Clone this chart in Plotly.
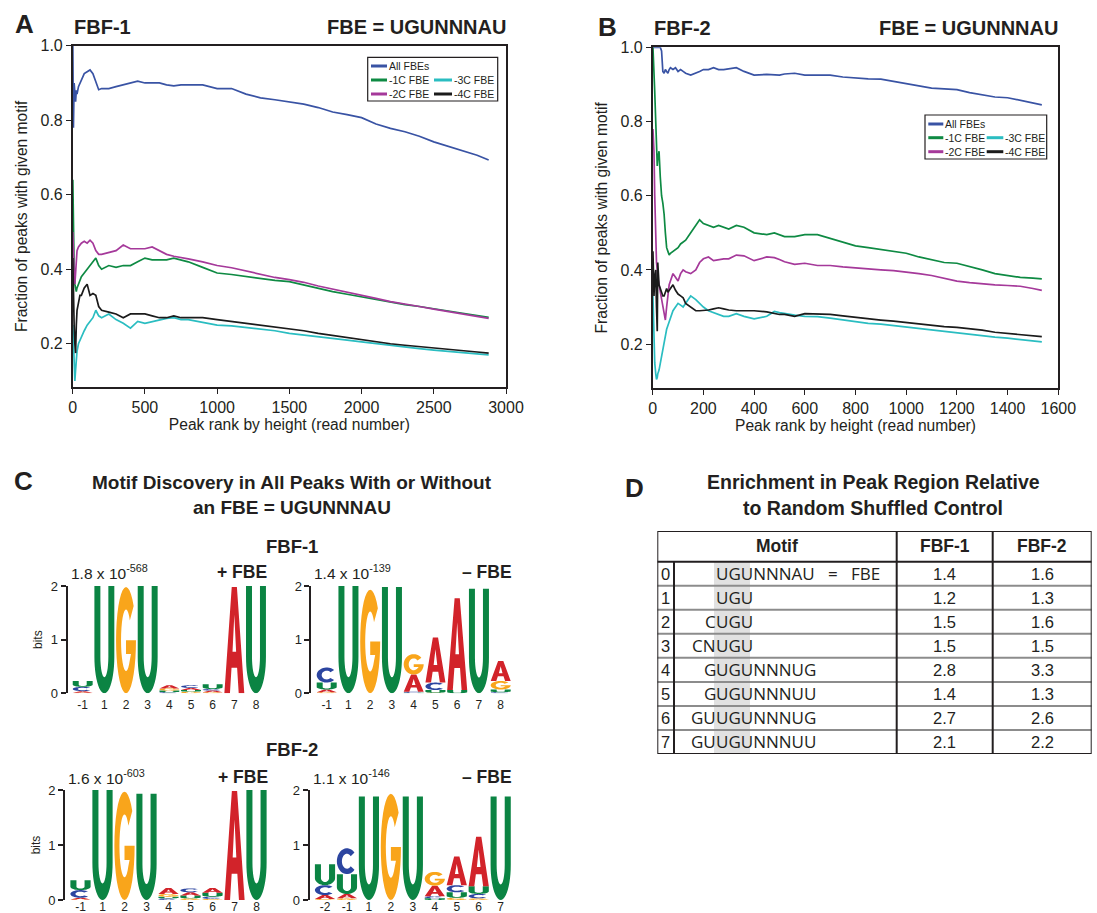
import math
import plotly.graph_objects as go

# ---------------- DATA ----------------
SERIES_NAMES = ["All FBEs", "-1C FBE", "-2C FBE", "-3C FBE", "-4C FBE"]
SERIES_COLORS = ["#3953A4", "#0E8A43", "#A5399A", "#2ABDC1", "#1b1b1b"]

A_RANK = [1, 5, 10, 15, 20, 25, 30, 40, 50, 60, 80, 100, 120, 140, 160, 180, 200, 250, 300, 350,
          400, 450, 500, 550, 600, 650, 700, 750, 800, 900, 1000, 1100, 1200, 1300, 1400, 1500,
          1600, 1700, 1800, 1900, 2000, 2100, 2200, 2300, 2400, 2500, 2600, 2700, 2800, 2880]
A_ALL = [1.0, 0.78, 0.90, 0.86, 0.85, 0.88, 0.87, 0.89, 0.90, 0.91, 0.925, 0.93, 0.935, 0.925, 0.905,
         0.882, 0.885, 0.885, 0.89, 0.895, 0.90, 0.905, 0.90, 0.90, 0.90, 0.895, 0.892, 0.895, 0.895,
         0.895, 0.885, 0.885, 0.87, 0.86, 0.855, 0.85, 0.843, 0.834, 0.822, 0.815, 0.807, 0.79, 0.778,
         0.769, 0.757, 0.742, 0.73, 0.72, 0.706, 0.693]
A_1C = [0.64, 0.48, 0.40, 0.36, 0.35, 0.34, 0.35, 0.36, 0.37, 0.38, 0.39, 0.40, 0.41, 0.42, 0.43,
        0.41, 0.40, 0.41, 0.405, 0.41, 0.41, 0.42, 0.43, 0.425, 0.425, 0.425, 0.43, 0.425, 0.42,
        0.405, 0.39, 0.386, 0.38, 0.375, 0.37, 0.367, 0.358, 0.348, 0.34, 0.333, 0.326, 0.318, 0.311,
        0.305, 0.30, 0.295, 0.288, 0.282, 0.276, 0.271]
A_2C = [0.50, 0.42, 0.38, 0.36, 0.40, 0.43, 0.45, 0.46, 0.465, 0.47, 0.475, 0.47, 0.478, 0.47, 0.45,
        0.44, 0.44, 0.445, 0.45, 0.465, 0.455, 0.455, 0.455, 0.46, 0.45, 0.44, 0.435, 0.432, 0.428,
        0.42, 0.41, 0.404, 0.395, 0.385, 0.378, 0.372, 0.365, 0.355, 0.347, 0.34, 0.332, 0.322, 0.313,
        0.307, 0.30, 0.293, 0.286, 0.28, 0.274, 0.268]
A_3C = [0.25, 0.20, 0.13, 0.10, 0.13, 0.16, 0.18, 0.20, 0.21, 0.22, 0.235, 0.25, 0.26, 0.27, 0.29,
        0.275, 0.27, 0.28, 0.265, 0.255, 0.242, 0.26, 0.255, 0.26, 0.265, 0.268, 0.27, 0.265, 0.265,
        0.258, 0.25, 0.248, 0.244, 0.24, 0.235, 0.228, 0.224, 0.22, 0.214, 0.21, 0.205, 0.20, 0.195,
        0.19, 0.187, 0.183, 0.18, 0.177, 0.173, 0.17]
A_4C = [0.43, 0.30, 0.25, 0.20, 0.175, 0.25, 0.29, 0.31, 0.33, 0.33, 0.35, 0.36, 0.33, 0.335, 0.33,
        0.30, 0.29, 0.285, 0.28, 0.27, 0.28, 0.28, 0.28, 0.275, 0.27, 0.27, 0.275, 0.27, 0.27,
        0.27, 0.265, 0.26, 0.255, 0.25, 0.245, 0.24, 0.235, 0.228, 0.222, 0.218, 0.212, 0.205, 0.20,
        0.196, 0.192, 0.188, 0.185, 0.182, 0.178, 0.175]

B_RANK = [1, 5, 8, 12, 15, 18, 20, 25, 30, 35, 40, 45, 50, 55, 60, 65, 70, 80, 90, 100, 110, 120, 130,
          150, 170, 185, 200, 220, 240, 260, 280, 300, 330, 360, 400, 450, 480, 500, 520, 560, 600,
          650, 700, 750, 800, 850, 900, 950, 1000, 1050, 1100, 1150, 1200, 1250, 1300, 1350, 1400,
          1450, 1500, 1535]
B_ALL = [1.0, 1.0, 1.0, 1.0, 1.0, 1.0, 1.0, 1.0, 1.0, 0.99, 0.935, 0.93, 0.94, 0.935, 0.93, 0.94,
         0.945, 0.94, 0.945, 0.935, 0.94, 0.935, 0.93, 0.925, 0.93, 0.935, 0.94, 0.94, 0.945, 0.94,
         0.94, 0.942, 0.945, 0.935, 0.925, 0.927, 0.925, 0.925, 0.928, 0.93, 0.925, 0.926, 0.925,
         0.92, 0.917, 0.915, 0.914, 0.908, 0.90, 0.895, 0.89, 0.888, 0.886, 0.878, 0.872, 0.866,
         0.864, 0.857, 0.85, 0.845]
B_1C = [1.0, 0.95, 0.88, 0.80, 0.72, 0.68, 0.70, 0.72, 0.65, 0.60, 0.58, 0.55, 0.50, 0.46, 0.45, 0.44,
        0.445, 0.45, 0.455, 0.46, 0.47, 0.475, 0.48, 0.50, 0.52, 0.535, 0.525, 0.52, 0.515, 0.52,
        0.515, 0.51, 0.52, 0.515, 0.50, 0.495, 0.50, 0.495, 0.49, 0.49, 0.495, 0.495, 0.485, 0.475,
        0.465, 0.46, 0.455, 0.452, 0.445, 0.435, 0.428, 0.42, 0.418, 0.41, 0.40, 0.39, 0.384, 0.38,
        0.378, 0.376]
B_2C = [0.78, 0.72, 0.60, 0.47, 0.42, 0.40, 0.38, 0.36, 0.34, 0.32, 0.30, 0.28, 0.265, 0.30, 0.34,
        0.36, 0.37, 0.39, 0.38, 0.37, 0.39, 0.40, 0.395, 0.39, 0.40, 0.42, 0.43, 0.435, 0.425, 0.428,
        0.43, 0.43, 0.44, 0.438, 0.425, 0.435, 0.433, 0.428, 0.422, 0.415, 0.418, 0.412, 0.412, 0.408,
        0.405, 0.402, 0.40, 0.398, 0.395, 0.39, 0.385, 0.378, 0.37, 0.366, 0.362, 0.36, 0.358, 0.356,
        0.35, 0.345]
B_3C = [0.33, 0.22, 0.15, 0.12, 0.105, 0.11, 0.12, 0.13, 0.15, 0.17, 0.19, 0.20, 0.22, 0.24, 0.25,
        0.26, 0.27, 0.29, 0.30, 0.31, 0.305, 0.30, 0.31, 0.33, 0.32, 0.31, 0.30, 0.29, 0.285, 0.28,
        0.275, 0.275, 0.282, 0.275, 0.268, 0.275, 0.288, 0.285, 0.282, 0.278, 0.275, 0.274, 0.27,
        0.265, 0.26, 0.256, 0.254, 0.25, 0.245, 0.241, 0.237, 0.233, 0.229, 0.225, 0.222, 0.219,
        0.216, 0.213, 0.21, 0.206]
B_4C = [0.45, 0.33, 0.38, 0.40, 0.30, 0.235, 0.42, 0.36, 0.35, 0.34, 0.33, 0.33, 0.34, 0.35, 0.34,
        0.345, 0.35, 0.36, 0.345, 0.335, 0.33, 0.325, 0.31, 0.30, 0.29, 0.29, 0.29, 0.292, 0.295,
        0.298, 0.295, 0.292, 0.29, 0.29, 0.29, 0.287, 0.283, 0.28, 0.28, 0.275, 0.282, 0.282, 0.28,
        0.276, 0.272, 0.268, 0.265, 0.262, 0.258, 0.254, 0.25, 0.247, 0.245, 0.242, 0.238, 0.232,
        0.229, 0.226, 0.223, 0.22]

A_XTICKS = [0, 500, 1000, 1500, 2000, 2500, 3000]
B_XTICKS = [0, 200, 400, 600, 800, 1000, 1200, 1400, 1600]
Y_TICKS = [0.2, 0.4, 0.6, 0.8, 1.0]

# Sequence logos (bits per letter)
LOGO1_POS = ["-1", "1", "2", "3", "4", "5", "6", "7", "8"]
LOGO1_A = [0.03, 0, 0, 0, 0.06, 0.04, 0.03, 1.98, 0]
LOGO1_C = [0.08, 0, 0, 0, 0.02, 0.05, 0.03, 0, 0]
LOGO1_G = [0.01, 0, 1.98, 0, 0.04, 0.03, 0.02, 0, 0]
LOGO1_U = [0.11, 2.0, 0, 2.0, 0.03, 0.03, 0.09, 0, 2.0]

LOGO2_POS = ["-1", "1", "2", "3", "4", "5", "6", "7", "8"]
LOGO2_A = [0.05, 0, 0, 0, 0.32, 0.84, 1.71, 0, 0.37]
LOGO2_C = [0.28, 0, 0, 0, 0.02, 0.14, 0, 0, 0.02]
LOGO2_G = [0.02, 0, 1.93, 0, 0.38, 0.01, 0, 0, 0.16]
LOGO2_U = [0.13, 2.0, 0, 1.98, 0.01, 0.05, 0.06, 1.95, 0.05]

LOGO3_POS = ["-1", "1", "2", "3", "4", "5", "6", "7", "8"]
LOGO3_A = [0.03, 0, 0, 0, 0.11, 0.06, 0.09, 1.98, 0]
LOGO3_C = [0.14, 0, 0, 0, 0.03, 0.07, 0.04, 0, 0]
LOGO3_G = [0.01, 0, 1.97, 0, 0.05, 0.03, 0.02, 0, 0]
LOGO3_U = [0.18, 2.0, 0, 1.93, 0.03, 0.05, 0.07, 0, 2.0]

LOGO4_POS = ["-2", "-1", "1", "2", "3", "4", "5", "6", "7"]
LOGO4_A = [0.07, 0.08, 0, 0, 0, 0.19, 0.52, 0.90, 0]
LOGO4_C = [0.18, 0.47, 0, 0, 0, 0.04, 0.13, 0.08, 0]
LOGO4_G = [0.02, 0.03, 0, 1.93, 0, 0.25, 0.04, 0.03, 0]
LOGO4_U = [0.38, 0.36, 1.88, 0, 1.88, 0.03, 0.10, 0.14, 1.88]

LOGO_PVALUES = ["1.8 x 10<sup>-568</sup>", "1.4 x 10<sup>-139</sup>",
                "1.6 x 10<sup>-603</sup>", "1.1 x 10<sup>-146</sup>"]
LOGO_TAGS = ["+ FBE", "\u2013 FBE", "+ FBE", "\u2013 FBE"]

# Enrichment table
ROW_IDX = ["0", "1", "2", "3", "4", "5", "6", "7"]
MOTIF_PREFIX = ["", "", "C", "CN", "G", "G", "GU", "GU"]
MOTIF_CORE = ["UGUNNNAU\u00a0\u00a0\u00a0=\u00a0\u00a0\u00a0FBE", "UGU", "UGU", "UGU",
              "UGUNNNUG", "UGUNNNUU", "UGUNNNUG", "UGUNNNUU"]
ENRICH_FBF1 = ["1.4", "1.2", "1.5", "1.5", "2.8", "1.4", "2.7", "2.1"]
ENRICH_FBF2 = ["1.6", "1.3", "1.6", "1.5", "3.3", "1.3", "2.6", "2.2"]
TABLE_HEADER = ["Motif", "FBF-1", "FBF-2"]

# ---------------- STYLE ----------------
W, H = 1097, 913
NARROW = "Liberation Sans, Arial, Helvetica, sans-serif"
SANS = "Liberation Sans, Arial, Helvetica, sans-serif"
MOTIF_FONT = "Open Sans, Noto Sans, DejaVu Sans, sans-serif"
INK = "#231f20"
LETTER_COLORS = {"A": "#D2232A", "C": "#2C45A0", "G": "#F9A51B", "U": "#0B8443"}


def px(x):
    return x / W


def py(y):
    return 1 - y / H


fig = go.Figure()
annotations = []
shapes = []

# ---------------- Panels A and B ----------------
panelA = [A_ALL, A_1C, A_2C, A_3C, A_4C]
panelB = [B_ALL, B_1C, B_2C, B_3C, B_4C]
for xs, ser, xa, ya in [(A_RANK, panelA, "x", "y"), (B_RANK, panelB, "x2", "y2")]:
    for i in range(5):
        fig.add_trace(go.Scatter(x=xs, y=ser[i], mode="lines", name=SERIES_NAMES[i],
                                 line=dict(color=SERIES_COLORS[i], width=1.7),
                                 xaxis=xa, yaxis=ya, showlegend=False, hoverinfo="skip"))

line_axis = dict(showline=True, mirror=True, linecolor=INK, linewidth=1.5, ticks="outside",
                 ticklen=5, tickcolor=INK, tickwidth=1.2, showgrid=False, zeroline=False,
                 automargin=False, tickfont=dict(family=NARROW, size=16, color=INK))
title_font = dict(family=NARROW, size=15.6, color=INK)

layout_axes = dict(
    xaxis=dict(domain=[px(72.7), px(506)], range=[0, 3000], tickvals=A_XTICKS, anchor="y",
               title=dict(text="Peak rank by height (read number)", font=title_font, standoff=1),
               **line_axis),
    yaxis=dict(domain=[py(387), py(45.7)], range=[0.084, 1.0], tickvals=Y_TICKS,
               ticktext=[f"{v:.1f}" for v in Y_TICKS], anchor="x",
               title=dict(text="Fraction of peaks with given motif", font=title_font, standoff=9),
               **line_axis),
    xaxis2=dict(domain=[px(652.7), px(1058.3)], range=[0, 1600], tickvals=B_XTICKS, anchor="y2",
                title=dict(text="Peak rank by height (read number)", font=title_font, standoff=1),
                **line_axis),
    yaxis2=dict(domain=[py(388.3), py(47.3)], range=[0.081, 1.0], tickvals=Y_TICKS,
                ticktext=[f"{v:.1f}" for v in Y_TICKS], anchor="x2",
                title=dict(text="Fraction of peaks with given motif", font=title_font, standoff=9),
                **line_axis),
)


def legend_box(box, rows):
    x0, y0, x1, y1 = box
    shapes.append(dict(type="rect", xref="paper", yref="paper", x0=px(x0), x1=px(x1),
                       y0=py(y1), y1=py(y0), line=dict(color=INK, width=1.2), fillcolor="white"))
    for idx, lx0, lx1, ty in rows:
        shapes.append(dict(type="line", xref="paper", yref="paper", x0=px(lx0), x1=px(lx1),
                           y0=py(ty), y1=py(ty), line=dict(color=SERIES_COLORS[idx], width=3)))
        annotations.append(dict(xref="paper", yref="paper", x=px(lx1 + 0.5), y=py(ty),
                                xanchor="left", yanchor="middle", showarrow=False,
                                text=SERIES_NAMES[idx], borderpad=0,
                                font=dict(family=NARROW, size=10.5, color=INK)))


legend_box((367.7, 57.3, 497.7, 101),
           [(0, 371, 387, 66), (1, 371, 387, 80), (3, 434, 452, 80), (2, 371, 387, 94), (4, 434, 452, 94)])
legend_box((925, 115, 1046.7, 159),
           [(0, 928.3, 943.3, 124), (1, 928.3, 943.3, 137.7), (3, 986.7, 1003.3, 137.7),
            (2, 928.3, 943.3, 151.7), (4, 986.7, 1003.3, 151.7)])


def text(x, y, s, size, bold=False, xanchor="center", family=NARROW, yanchor="middle"):
    annotations.append(dict(xref="paper", yref="paper", x=px(x), y=py(y), text=f"<b>{s}</b>" if bold else s,
                            showarrow=False, xanchor=xanchor, yanchor=yanchor, borderpad=0,
                            font=dict(family=family, size=size, color=INK)))


text(14, 24, "A", 26, True, "left", SANS)
text(597, 27, "B", 26, True, "left", SANS)
text(13, 481, "C", 26, True, "left", SANS)
text(624, 488, "D", 26, True, "left", SANS)
text(73, 27, "FBF-1", 20, True, "left")
text(507, 27, "FBE = UGUNNNAU", 20, True, "right")
text(653, 28, "FBF-2", 20, True, "left")
text(1059, 28, "FBE = UGUNNNAU", 20, True, "right")

text(292, 482, "Motif Discovery in All Peaks With or Without", 19, True)
text(292, 508, "an FBE = UGUNNNAU", 19, True)
text(292, 546, "FBF-1", 18.5, True)
text(292, 749, "FBF-2", 18.5, True)
text(873, 482, "Enrichment in Peak Region Relative", 19.5, True)
text(873, 508, "to Random Shuffled Control", 19.5, True)

# ---------------- Sequence logos ----------------


def arc(cx, cy, rx, ry, a0, a1, n):
    pts = []
    for k in range(n + 1):
        t = math.radians(a0 + (a1 - a0) * k / n)
        pts.append((cx + rx * math.cos(t), cy + ry * math.sin(t)))
    return pts


GLYPHS = {
    "U": [[(0, 1)] + arc(0.5, 0.34, 0.5, 0.34, 180, 360, 24) + [(1, 1), (0.7, 1)]
          + arc(0.5, 0.34, 0.2, 0.19, 360, 180, 16) + [(0.3, 1)]],
    "C": [arc(0.5, 0.5, 0.5, 0.5, 42, 318, 32) + arc(0.5, 0.5, 0.25, 0.29, 318, 42, 24)],
    "G": [arc(0.5, 0.5, 0.5, 0.5, 40, 360, 32) + [(0.5, 0.5), (0.5, 0.37), (0.75, 0.37)]
          + arc(0.5, 0.5, 0.25, 0.29, -40, -320, 24)],
    "A": [[(0, 0), (0.37, 1), (0.63, 1), (1, 0), (0.72, 0), (0.64, 0.24), (0.36, 0.24), (0.28, 0)],
          [(0.41, 0.39), (0.59, 0.39), (0.5, 0.74)]],
}


def letter_path(letter, xc, y0, h, w=0.92):
    parts = []
    for poly in GLYPHS[letter]:
        pts = [(xc - w / 2 + u * w, y0 + v * h) for u, v in poly]
        parts.append("M " + " L ".join(f"{x:.4f},{y:.5f}" for x, y in pts) + " Z")
    return " ".join(parts)


logos = [
    # (axis id, first col center px, col spacing px, y0 px, y2 px, label row px, positions, A, C, G, U)
    (3, 82.7, 21.66, 693.3, 586, 696, LOGO1_POS, LOGO1_A, LOGO1_C, LOGO1_G, LOGO1_U),
    (4, 326.7, 21.75, 693.3, 586, 696, LOGO2_POS, LOGO2_A, LOGO2_C, LOGO2_G, LOGO2_U),
    (5, 80.5, 22.0, 900, 790, 897.5, LOGO3_POS, LOGO3_A, LOGO3_C, LOGO3_G, LOGO3_U),
    (6, 325.0, 21.96, 900, 790, 897.5, LOGO4_POS, LOGO4_A, LOGO4_C, LOGO4_G, LOGO4_U),
]
for k, (aid, c0, sp, y0p, y2p, lab_y, pos, la, lc, lg, lu) in enumerate(logos):
    xr = [-0.7, 8.55]
    layout_axes[f"xaxis{aid}"] = dict(
        domain=[px(c0 + xr[0] * sp), px(c0 + xr[1] * sp)], range=xr, anchor="free",
        position=py(lab_y), overlaying=None,
        tickvals=list(range(len(pos))), ticktext=pos, showline=False, ticks="", showgrid=False,
        zeroline=False, automargin=False, tickfont=dict(family=NARROW, size=12, color=INK))
    yax = dict(
        domain=[py(y0p), py(y2p)], range=[0, 2], anchor=f"x{aid}", tickvals=[0, 1, 2],
        showline=True, linecolor=INK, linewidth=2, ticks="outside", ticklen=5, tickwidth=2,
        tickcolor=INK, showgrid=False, zeroline=False, automargin=False,
        tickfont=dict(family=NARROW, size=13, color=INK))
    if aid in (3, 5):
        yax["title"] = dict(text="bits", font=dict(family=NARROW, size=12, color=INK), standoff=5)
    layout_axes[f"yaxis{aid}"] = yax
    # invisible anchor trace so the subplot exists
    fig.add_trace(go.Scatter(x=[0], y=[0], xaxis=f"x{aid}", yaxis=f"y{aid}", mode="markers",
                             marker=dict(opacity=0), showlegend=False, hoverinfo="skip"))
    for j in range(len(pos)):
        stack = sorted([("A", la[j]), ("C", lc[j]), ("G", lg[j]), ("U", lu[j])], key=lambda t: t[1])
        base = 0.0
        for letter, hgt in stack:
            if hgt <= 0:
                continue
            shapes.append(dict(type="path", xref=f"x{aid}", yref=f"y{aid}",
                               path=letter_path(letter, j, base, hgt),
                               fillcolor=LETTER_COLORS[letter], line=dict(width=0),
                               fillrule="evenodd", layer="above"))
            base += hgt
    left_px = c0 + xr[0] * sp
    right_px = c0 + xr[1] * sp
    ptxt_y = y2p - 14 if k < 2 else y2p - 13
    text(left_px + 2, ptxt_y, LOGO_PVALUES[k], 15.5, False, "left")
    text(right_px, ptxt_y, LOGO_TAGS[k], 17.5, True, "right")

# ---------------- Table D ----------------
T_LEFT, T_RIGHT, T_TOP, T_BOT = 657.3, 1091.7, 531, 754
T_W = T_RIGHT - T_LEFT
HDR_ROWS = (561.7 - T_TOP) / ((T_BOT - 561.7) / 8)
layout_axes["xaxis7"] = dict(domain=[px(T_LEFT), px(T_RIGHT)], range=[0, T_W], visible=False,
                             anchor="y7", fixedrange=True, automargin=False)
layout_axes["yaxis7"] = dict(domain=[py(T_BOT), py(T_TOP)], range=[8, -HDR_ROWS], visible=False,
                             anchor="x7", fixedrange=True, automargin=False)
fig.add_trace(go.Scatter(x=[0], y=[0], xaxis="x7", yaxis="y7", mode="markers",
                         marker=dict(opacity=0), showlegend=False, hoverinfo="skip"))
COL_IDX_R = 674 - T_LEFT
COL_MOTIF_R = 896.7 - T_LEFT
COL_F1_R = 992.7 - T_LEFT
CORE_X = 714.5 - T_LEFT
n_rows = len(ROW_IDX)
shapes.append(dict(type="rect", xref="x7", yref="y7", x0=714 - T_LEFT, x1=750 - T_LEFT, y0=0, y1=n_rows,
                   fillcolor="#e1e1e1", line=dict(width=0), layer="below"))
for i in range(1, n_rows):
    shapes.append(dict(type="line", xref="x7", yref="y7", x0=0, x1=T_W, y0=i, y1=i,
                       line=dict(color="#8c8c8c", width=2)))
shapes.append(dict(type="line", xref="x7", yref="y7", x0=0, x1=T_W, y0=0, y1=0,
                   line=dict(color=INK, width=2)))
shapes.append(dict(type="line", xref="x7", yref="y7", x0=COL_IDX_R, x1=COL_IDX_R, y0=0, y1=n_rows,
                   line=dict(color=INK, width=2)))
for cx in (COL_MOTIF_R, COL_F1_R):
    shapes.append(dict(type="line", xref="x7", yref="y7", x0=cx, x1=cx, y0=-HDR_ROWS, y1=n_rows,
                       line=dict(color=INK, width=2)))
shapes.append(dict(type="rect", xref="x7", yref="y7", x0=0, x1=T_W, y0=-HDR_ROWS, y1=n_rows,
                   line=dict(color=INK, width=2)))


def ttext(x, y, s, size, family, xanchor="center", bold=False, xshift=0):
    annotations.append(dict(xref="x7", yref="y7", x=x, y=y, text=f"<b>{s}</b>" if bold else s,
                            showarrow=False, xanchor=xanchor, yanchor="middle", borderpad=0,
                            xshift=xshift, font=dict(family=family, size=size, color=INK)))


hdr_y = -HDR_ROWS / 2
ttext((COL_IDX_R + COL_MOTIF_R) / 2 - 8, hdr_y, TABLE_HEADER[0], 17.5, NARROW, bold=True)
ttext((COL_MOTIF_R + COL_F1_R) / 2, hdr_y, TABLE_HEADER[1], 17.5, NARROW, bold=True)
ttext((COL_F1_R + T_W) / 2, hdr_y, TABLE_HEADER[2], 17.5, NARROW, bold=True)
for i in range(n_rows):
    yc = i + 0.5
    ttext(COL_IDX_R / 2, yc, ROW_IDX[i], 16.5, NARROW)
    if MOTIF_PREFIX[i]:
        ttext(CORE_X, yc, MOTIF_PREFIX[i], 17, MOTIF_FONT, "right", xshift=2.5)
    ttext(CORE_X, yc, MOTIF_CORE[i], 17, MOTIF_FONT, "left")
    ttext((COL_MOTIF_R + COL_F1_R) / 2, yc, ENRICH_FBF1[i], 16.5, NARROW)
    ttext((COL_F1_R + T_W) / 2, yc, ENRICH_FBF2[i], 16.5, NARROW)

fig.update_layout(
    width=W, height=H, margin=dict(l=0, r=0, t=0, b=0, autoexpand=False),
    paper_bgcolor="white", plot_bgcolor="white",
    showlegend=False, annotations=annotations, shapes=shapes, **layout_axes,
)
PAGE_FIX = ("document.documentElement.style.margin='0px';document.body.style.margin='0px';"
            "document.body.style.padding='0px';document.documentElement.style.overflow='hidden';"
            "document.body.style.overflow='hidden';")
fig.write_html("out.html", config={"displayModeBar": False}, post_script=PAGE_FIX)
